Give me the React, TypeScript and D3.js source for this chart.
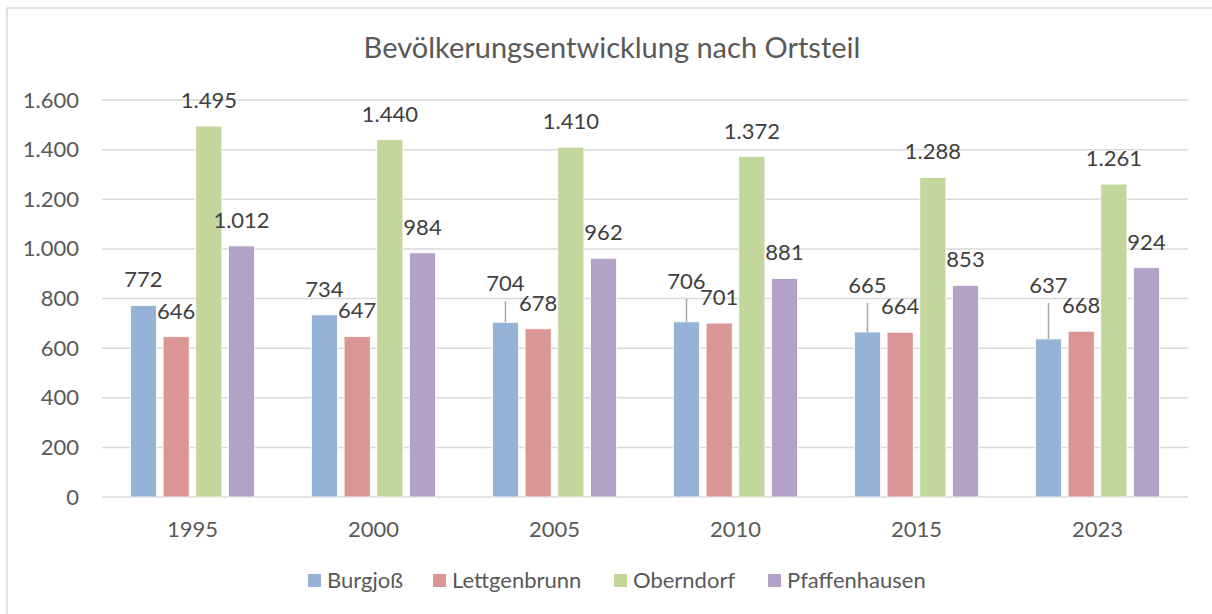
import React from 'react';
import * as d3 from 'd3';

const years = ['1995', '2000', '2005', '2010', '2015', '2023'];
const series = ['Burgjoß', 'Lettgenbrunn', 'Oberndorf', 'Pfaffenhausen'];
const burgjoss = [772, 734, 704, 706, 665, 637];
const lettgenbrunn = [646, 647, 678, 701, 664, 668];
const oberndorf = [1495, 1440, 1410, 1372, 1288, 1261];
const pfaffenhausen = [1012, 984, 962, 881, 853, 924];
const yTicks = [0, 200, 400, 600, 800, 1000, 1200, 1400, 1600];
// Burgjoß labels were pushed up by Excel to dodge the neighbours (px)
const burgjossLabelLift = [0, 0, 13, 15, 21, 28];

const colors = ['#95b3d7', '#d99694', '#c3d69b', '#b3a2c7'];
const values = [burgjoss, lettgenbrunn, oberndorf, pfaffenhausen];
const legendX = [308, 433, 614, 768];

const fmt = (v: number) => d3.format(',')(v).replace(/,/g, '.');

export default function App() {
  const width = 1212;
  const height = 614;
  const font = 'Lato, "Open Sans", sans-serif';
  const textColor = '#595959';

  const x0 = d3.scaleBand().domain(years).range([102, 1188]);
  const x1 = d3.scaleBand().domain(series).range([0, x0.bandwidth()])
    .paddingInner(0.2).paddingOuter(0.87);
  const y = d3.scaleLinear().domain([0, 1600]).range([497, 100]);

  const drawBars = () => {
    return years.map((yr, i) => (
      <g key={yr} transform={`translate(${x0(yr)},0)`}>
        {series.map((s, j) => {
          const v = values[j][i];
          const bx = x1(s) as number;
          const bw = x1.bandwidth();
          const top = y(v);
          const lift = j === 0 ? burgjossLabelLift[i] : 0;
          const labelY = top - 18 - lift;
          return (
            <g key={s}>
              <rect
                x={bx}
                y={top}
                width={bw}
                height={y(0) - top}
                fill={colors[j]}
                stroke='#ffffff'
                strokeWidth={0.8}
              />
              {lift > 0 && (
                <line
                  x1={bx + bw / 2}
                  x2={bx + bw / 2}
                  y1={labelY + 10}
                  y2={top}
                  stroke='#a6a6a6'
                  strokeWidth={1.5}
                />
              )}
              <text
                x={bx + bw / 2}
                y={labelY}
                textAnchor='middle'
                fontSize={22}
                fill='#404040'
              >
                {fmt(v)}
              </text>
            </g>
          );
        })}
      </g>
    ));
  };

  return (
    <svg
      width={width}
      height={height}
      style={{ position: 'absolute', left: 0, top: 0, fontFamily: font }}
    >
      <rect x={0} y={0} width={width} height={height} fill='#ffffff' />
      <rect x={7} y={8} width={width + 10} height={height + 10} fill='#ffffff' stroke='#d9d9d9' strokeWidth={1.5} />

      {/* Title */}
      <text x={612} y={58} textAnchor='middle' fontSize={29} fill={textColor}>
        Bevölkerungsentwicklung nach Ortsteil
      </text>

      {/* Grid + y ticks */}
      {yTicks.map(t => (
        <g key={t}>
          <line x1={102} x2={1188} y1={y(t)} y2={y(t)} stroke='#d9d9d9' strokeWidth={1.5} />
          <text x={79} y={y(t) + 7.5} textAnchor='end' fontSize={22} fill={textColor}>
            {fmt(t)}
          </text>
        </g>
      ))}

      {drawBars()}

      {/* x labels */}
      {years.map(yr => (
        <text
          key={yr}
          x={(x0(yr) as number) + x0.bandwidth() / 2}
          y={537}
          textAnchor='middle'
          fontSize={22}
          fill={textColor}
        >
          {yr}
        </text>
      ))}

      {/* Legend */}
      {series.map((s, j) => (
        <g key={s} transform={`translate(${legendX[j]},0)`}>
          <rect x={0} y={574} width={13} height={13} fill={colors[j]} />
          <text x={19} y={588} fontSize={22} fill={textColor}>{s}</text>
        </g>
      ))}
    </svg>
  );
}
